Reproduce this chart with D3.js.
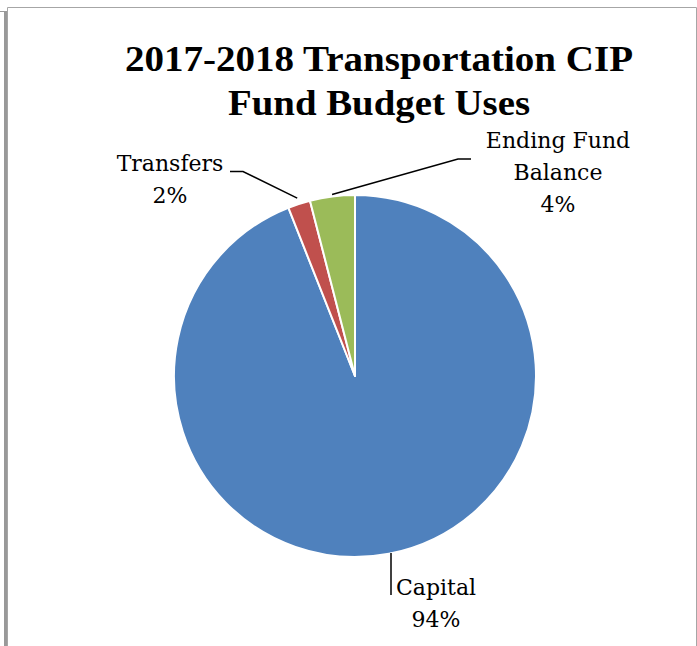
<!DOCTYPE html>
<html>
<head>
<meta charset="utf-8">
<script src="https://cdn.jsdelivr.net/npm/d3@7"></script>
<style>
  html, body { margin: 0; padding: 0; background: #fff; }
  svg { display: block; }
</style>
</head>
<body>
<svg id="chart" width="697" height="646"></svg>
<script>
// Budget uses, percent of total
const categories = ["Capital", "Transfers", "Ending Fund Balance"];
const values = [94, 2, 4];
const colors = ["#4F81BD", "#C0504D", "#9BBB59"];
const titleLines = ["2017-2018 Transportation CIP", "Fund Budget Uses"];

const svg = d3.select("#chart");
const W = 697, H = 646;

// frame
svg.append("line").attr("x1", 0).attr("y1", 11.5).attr("x2", 6).attr("y2", 11.5)
  .attr("stroke", "#999").attr("stroke-width", 1);
svg.append("rect").attr("x", 4).attr("y", 11).attr("width", 3).attr("height", H - 11)
  .attr("fill", "#999");
svg.append("path").attr("d", `M7.5,${H} V7.5 H696.5 V${H}`)
  .attr("fill", "none").attr("stroke", "#a6a6a6").attr("stroke-width", 1);

// title
const titleFont = "'Liberation Serif', 'Times New Roman', serif";
const titleWidths = [508, 302];
svg.append("g").selectAll("text").data(titleLines).join("text")
  .attr("x", 379).attr("y", (d, i) => 71 + i * 44)
  .attr("text-anchor", "middle")
  .attr("font-family", titleFont).attr("font-weight", "bold").attr("font-size", 35)
  .attr("textLength", (d, i) => titleWidths[i]).attr("lengthAdjust", "spacingAndGlyphs")
  .attr("fill", "#000")
  .text(d => d);

// pie
const cx = 355, cy = 376, r = 181;
const pie = d3.pie().value(d => d.value).sort(null);
const arc = d3.arc().innerRadius(0).outerRadius(r);
const data = categories.map((c, i) => ({ name: c, value: values[i], color: colors[i] }));
const arcs = pie(data);

const g = svg.append("g").attr("transform", `translate(${cx},${cy})`);
g.selectAll("path.slice").data(arcs).join("path")
  .attr("class", "slice")
  .attr("d", arc)
  .attr("fill", d => d.data.color)
  .attr("stroke", "#fff").attr("stroke-width", 2).attr("stroke-linejoin", "round");

// leader lines and labels
const total = d3.sum(values);
const pct = v => Math.round(v / total * 100) + "%";
const pointOn = (a, rr) => [cx + rr * Math.sin(a), cy - rr * Math.cos(a)];
const mid = d => (d.startAngle + d.endAngle) / 2;

const labelSpec = [
  { lines: ["Capital", pct(values[0])], x: 436, y: 595, leader: () => [[391, 553], [391, 595]] },
  { lines: ["Transfers", pct(values[1])], x: 170, y: 171, leader: d => {
      const p = pointOn(mid(d), r + 6);
      return [[230, 171.5], [243, 171.5], p];
    } },
  { lines: ["Ending Fund", "Balance", pct(values[2])], x: 558, y: 148, leader: d => {
      const p = pointOn(mid(d), r + 2);
      return [[471, 159], [458, 159], p];
    } }
];

labelSpec.forEach((s, i) => {
  svg.append("path")
    .attr("d", d3.line()(s.leader(arcs[i])))
    .attr("fill", "none").attr("stroke", "#000").attr("stroke-width", 1.5);
  svg.append("text")
    .attr("text-anchor", "middle")
    .attr("font-family", "'DejaVu Serif', 'Liberation Serif', serif")
    .attr("font-size", 22).attr("fill", "#000")
    .selectAll("tspan").data(s.lines).join("tspan")
    .attr("x", s.x).attr("y", (d, k) => s.y + k * 32)
    .text(d => d);
});
</script>
</body>
</html>
